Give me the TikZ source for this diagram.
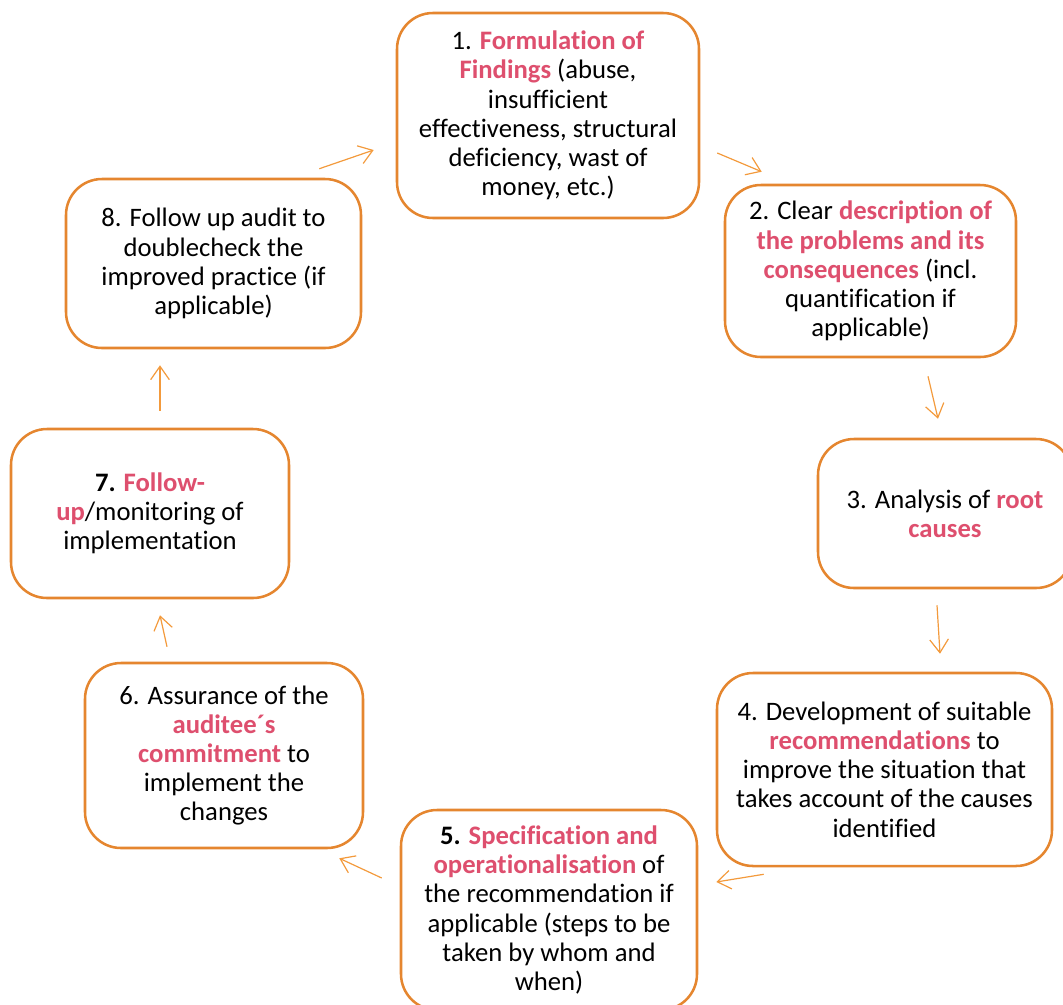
\documentclass[tikz,border=0pt]{standalone}
\usepackage{fontspec}
\setmainfont{Carlito}[Ligatures=NoCommon]
\usetikzlibrary{arrows.meta,calc}

\definecolor{boxorange}{HTML}{E5862F}
\definecolor{arrorange}{HTML}{F39A3C}
\definecolor{keyred}{HTML}{DE4F6E}
\newcommand{\hl}[1]{\textbf{\textcolor{keyred}{#1}}}

\begin{document}
\begin{tikzpicture}[x=0.75pt,y=-0.75pt,
  stage/.style={draw=boxorange,line width=1.9pt,rounded corners=27pt,fill=white,
    align=center,font=\fontsize{20}{21.9}\selectfont,inner sep=0pt},
  arr/.style={draw=arrorange,line width=0.9pt,-{Straight Barb[length=10pt,width=14pt]}}]

\useasboundingbox (0,0) rectangle (1063,1004);

\node[stage,minimum width=226.5pt,minimum height=153.75pt]   (s1) at (548,115.5)
  {1. \hl{Formulation of}\\ \hl{Findings} (abuse,\\ insufficient\\ effectiveness, structural\\ deficiency, wast of\\ money, etc.)};
\node[stage,minimum width=218.25pt,minimum height=129pt]     (s2) at (870.5,271)
  {2. Clear \hl{description of}\\ \hl{the problems and its}\\ \hl{consequences} (incl.\\ quantification if\\ applicable)};
\node[stage,minimum width=190.5pt,minimum height=111.75pt]   (s3) at (945,513.5)
  {3. Analysis of \hl{root}\\ \hl{causes}};
\node[stage,minimum width=251.25pt,minimum height=144.75pt]  (s4) at (884.5,769.5)
  {4. Development of suitable\\ \hl{recommendations} to\\ improve the situation that\\ takes account of the causes\\ identified};
\node[stage,minimum width=222pt,minimum height=150pt]        (s5) at (549,910)
  {\textbf{5.} \hl{Specification and}\\ \hl{operationalisation} of\\ the recommendation if\\ applicable (steps to be\\ taken by whom and\\ when)};
\node[stage,minimum width=208.5pt,minimum height=138.75pt]   (s6) at (224,755.5)
  {6. Assurance of the\\ \hl{auditee´s}\\ \hl{commitment} to\\ implement the\\ changes};
\node[stage,minimum width=208.5pt,minimum height=126.75pt]   (s7) at (150,513.5)
  {\textbf{7.} \hl{Follow-}\\ \hl{up}/monitoring of\\ implementation};
\node[stage,minimum width=221.25pt,minimum height=126.75pt]  (s8) at (213.5,263.5)
  {8. Follow up audit to\\ doublecheck the\\ improved practice (if\\ applicable)};

% cycle arrows, free standing between the boxes
\path[arr] ($(s8.north east)+(-43,-9)$)  -- ($(s1.west)+(-22,34.5)$);
\path[arr] ($(s1.east)+(17,37.5)$)        -- ($(s2.north west)+(38,-12)$);
\path[arr] ($(s2.south)+(57.5,18)$)       -- ($(s3.north)+(-7,-19)$);
\path[arr] ($(s3.south)+(-8,16)$)         -- ($(s4.north)+(55.5,-18)$);
\path[arr] ($(s4.south west)+(48,7)$)     -- ($(s5.east)+(18,-28)$);
\path[arr] ($(s5.west)+(-18,-32)$)        -- ($(s6.south east)+(-25,9)$);
\path[arr] ($(s6.north)+(-57,-15)$)       -- ($(s7.south)+(10,16)$);
\path[arr] ($(s7.north)+(10,-17)$)        -- ($(s8.south)+(-53.5,16)$);

\end{tikzpicture}
\end{document}
